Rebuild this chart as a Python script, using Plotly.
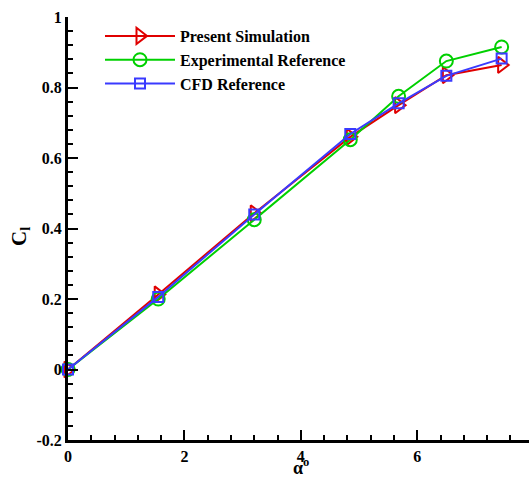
import plotly.graph_objects as go

alpha = [0, 1.55, 3.2, 4.85, 5.68, 6.5, 7.45]
present_sim = [0, 0.213, 0.443, 0.66, 0.75, 0.835, 0.864]
experimental = [0, 0.200, 0.425, 0.652, 0.775, 0.875, 0.915]
cfd_ref = [0, 0.206, 0.440, 0.668, 0.755, 0.833, 0.882]

x_tickvals = [0, 2, 4, 6]
x_ticktext = ["0", "2", "4", "6"]
y_tickvals = [-0.2, 0, 0.2, 0.4, 0.6, 0.8, 1.0]
y_ticktext = ["-0.2", "0", "0.2", "0.4", "0.6", "0.8", "1"]

names = ["Present Simulation", "Experimental Reference", "CFD Reference"]
colors = ["#e00000", "#00d000", "#3a3aff"]
symbols = ["triangle-right-open", "circle-open", "square-open"]
sizes = [14, 13, 10]
series = [present_sim, experimental, cfd_ref]

W, H = 529, 477
ml, mr, mt, mb = 68, 0, 17, 37
PW, PH = W - ml - mr, H - mt - mb
font_family = "Liberation Serif"

fig = go.Figure()
for name, col, sym, sz, ys in zip(names, colors, symbols, sizes, series):
    fig.add_trace(go.Scatter(
        x=alpha, y=ys, name=name, mode="lines+markers",
        line=dict(color=col, width=2),
        marker=dict(symbol=sym, size=sz, color=col, line=dict(width=2, color=col)),
        cliponaxis=False,
    ))

fig.update_layout(
    width=W, height=H,
    margin=dict(l=ml, r=mr, t=mt, b=mb),
    paper_bgcolor="white", plot_bgcolor="white",
    font=dict(family=font_family, size=15, color="black"),
    showlegend=True,
    legend=dict(
        x=(100 - ml) / PW, y=(H - mb - 19) / PH, xanchor="left", yanchor="top",
        bgcolor="rgba(0,0,0,0)",
        font=dict(family=font_family, size=16, color="black", weight="bold"),
        tracegroupgap=0, itemwidth=70,
    ),
    xaxis=dict(
        range=[0, 7.92], showgrid=False, zeroline=False,
        showline=True, linecolor="black", linewidth=3,
        ticks="inside", ticklen=10, tickwidth=2, tickcolor="black",
        tickmode="array", tickvals=x_tickvals, ticktext=x_ticktext,
        tickfont=dict(family=font_family, size=16, weight="bold"),
        minor=dict(ticks="inside", ticklen=5, tickwidth=1.5, tickcolor="black",
                   tick0=0, dtick=0.4, showgrid=False),
        automargin=False,
    ),
    yaxis=dict(
        range=[-0.2, 1.0], showgrid=False, zeroline=False,
        showline=True, linecolor="black", linewidth=3,
        ticks="inside", ticklen=10, tickwidth=2, tickcolor="black",
        tickmode="array", tickvals=y_tickvals, ticktext=y_ticktext,
        tickfont=dict(family=font_family, size=16, weight="bold"),
        minor=dict(ticks="inside", ticklen=5, tickwidth=1.5, tickcolor="black",
                   tick0=0, dtick=0.04, showgrid=False),
        automargin=False,
    ),
)

fig.add_annotation(
    text="C<sub>l</sub>", xref="paper", yref="paper",
    x=-(ml - 20) / PW, y=(H - mb - 237) / PH,
    xanchor="center", yanchor="middle",
    showarrow=False, textangle=-90,
    font=dict(family=font_family, size=21, weight="bold", color="black"),
)
fig.add_annotation(
    text="α<sup>o</sup>", xref="paper", yref="paper",
    x=(301 - ml) / PW, y=-(466 - (H - mb)) / PH,
    xanchor="center", yanchor="middle", borderpad=0,
    showarrow=False,
    font=dict(family=font_family, size=18, weight="bold", color="black"),
)

fig.write_html("out.html")
